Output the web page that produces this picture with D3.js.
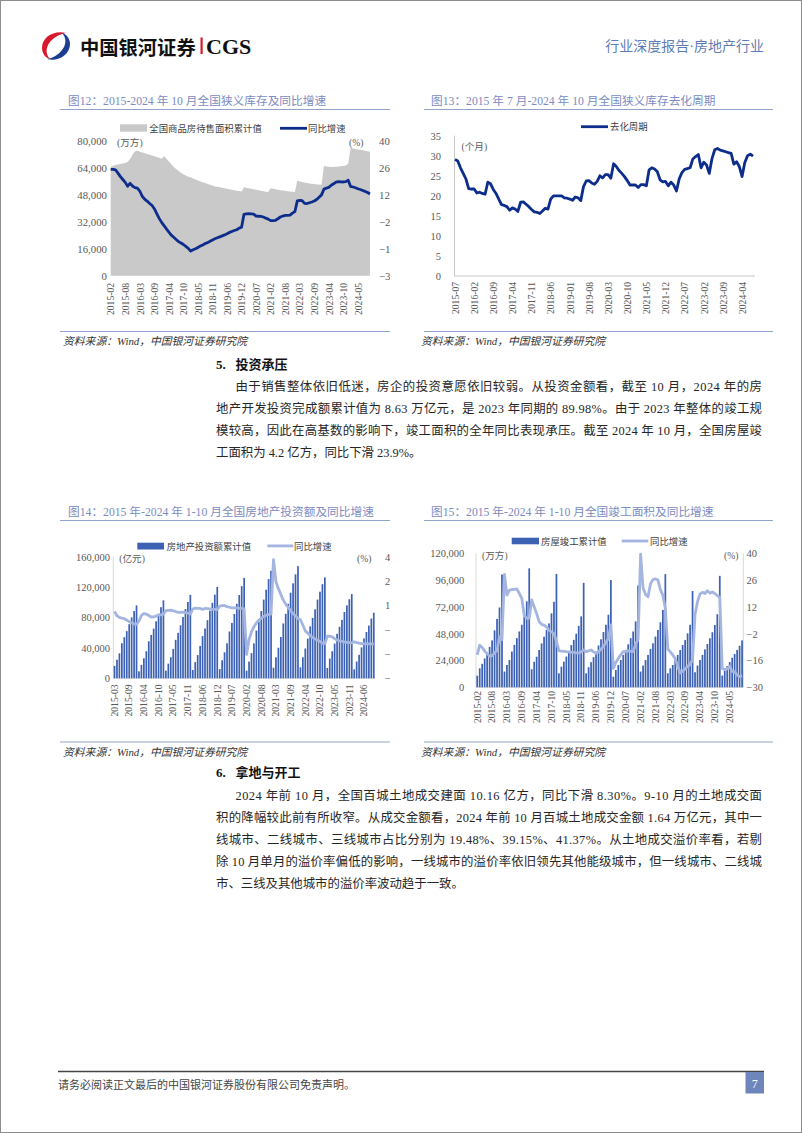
<!DOCTYPE html>
<html>
<head>
<meta charset="utf-8">
<script src="https://cdn.jsdelivr.net/npm/d3@7"></script>
<style>
body { margin: 0; background: #fff; }
svg text { font-family: "Liberation Serif", "Noto Sans CJK SC", serif; }
</style>
</head>
<body>
<svg id="page" width="802" height="1133"></svg>
<script>
// ---- data ----
// 图12 全国商品房待售面积累计值 (万方) and 同比 (%), 2015-02..2024-10, no January
const stockArea = [
  64700, 65300, 65800, 66100, 66300, 66600, 66900, 67500, 69300, 71800, 73800,
  74400, 73600, 73200, 72800, 72300, 71800, 71400, 71000, 70500, 70000, 69500,
  71000, 69500, 67800, 66200, 64600, 63300, 62200, 61200, 60300, 59500, 58800,
  58400, 57800, 57200, 56600, 56000, 55500, 55000, 54500, 54000, 53500, 53000,
  52800, 52500, 52200, 51900, 51600, 51300, 51000, 50800, 50500, 50300, 50000,
  52600, 52300, 52000, 51700, 51400, 51100, 50800, 50500, 50200, 49900, 49700,
  52000, 51600, 51300, 51000, 50800, 50600, 50400, 50200, 50000, 49800, 49700,
  56400, 56000, 55600, 55300, 55000, 54800, 54600, 54400, 54200, 54100, 54000,
  65300, 64900, 64700, 64600, 64600, 64700, 64800, 65000, 65200, 65500, 66500,
  76000, 75600, 75300, 75000, 74800, 74500, 74200, 73900, 73600
];
const stockYoY = [
  25.3, 25.3, 25.0, 23.3, 21.5, 20.0, 18.5, 16.5, 18.0, 16.6, 15.8,
  15.5, 14.0, 11.3, 9.8, 8.8, 7.6, 6.6, 4.8, 2.3, -0.2, -2.3,
  -4.0, -5.7, -7.3, -8.9, -10.0, -11.2, -12.3, -13.0, -13.8, -14.8, -15.8,
  -17.2, -16.5, -16.0, -15.3, -14.6, -14.0, -13.3, -12.8, -12.1, -11.4, -10.8,
  -10.3, -9.8, -9.3, -8.8, -8.2, -7.5, -7.0, -6.5, -6.1, -5.3, -4.8,
  1.9, 2.1, 2.2, 2.1, 2.0, 1.0, 0.9, 0.8, 0.5, -0.1, -0.6,
  -1.4, -1.4, -1.2, -0.4, 0.5, 1.0, 1.3, 1.4, 1.5, 2.5, 3.3,
  8.9, 9.2, 9.0, 7.6, 7.5, 7.9, 8.3, 8.8, 9.6, 10.8, 12.0,
  15.0, 15.5, 15.9, 17.0, 17.8, 18.6, 18.9, 18.8, 18.7, 18.9, 19.6,
  16.3, 16.1, 15.7, 15.2, 14.8, 14.3, 13.8, 13.2, 12.5
];
const stockTicks = ['2015-02','2015-08','2016-03','2016-09','2017-04','2017-10','2018-05','2018-11','2019-06',
  '2019-12','2020-07','2021-02','2021-08','2022-03','2022-09','2023-04','2023-10','2024-05'];

// 图13 去化周期 (个月), monthly from 2015-07
const cycle = [
  29.1, 28.7, 27.0, 25.6, 24.2, 21.8, 21.7, 21.7, 20.7, 20.9,
  20.6, 20.4, 23.4, 23.0, 21.6, 20.6, 19.2, 17.8, 17.6, 17.3,
  16.4, 17.0, 16.7, 16.1, 18.4, 18.5, 17.9, 17.3, 16.6, 16.0,
  15.9, 15.6, 16.2, 16.9, 16.7, 19.2, 20.0, 20.0, 20.0, 20.0,
  19.5, 19.4, 19.2, 18.9, 19.7, 19.5, 18.8, 22.3, 23.7, 23.8,
  23.2, 22.9, 23.6, 25.0, 24.5, 25.3, 25.3, 24.4, 28.0, 27.3,
  26.3, 25.6, 24.8, 23.8, 22.7, 22.7, 22.7, 22.1, 22.8, 22.8,
  22.5, 26.5, 27.0, 26.7, 26.0, 24.0, 23.5, 23.6, 22.5, 23.4,
  22.7, 21.2, 24.2, 25.8, 26.6, 26.8, 27.0, 29.2, 29.8, 30.3,
  27.0, 28.4, 27.7, 25.6, 29.3, 31.5, 31.8, 31.4, 31.2, 31.0,
  30.8, 30.6, 27.9, 28.5, 27.3, 24.8, 28.3, 30.0, 30.4, 29.9
];
const cycleTicks = ['2015-07','2016-02','2016-09','2017-04','2017-11','2018-06','2019-01','2019-08',
  '2020-03','2020-10','2021-05','2021-12','2022-07','2023-02','2023-09','2024-04'];

// 图14 房地产投资额累计值 (亿元) and 同比 (%), 2015-03..2024-10, no January
const investBars = [
  16360, 24452, 32852, 46177, 54130, 62045, 71178, 80056, 88513, 95979,
  9175, 17677, 26395, 35665, 48735, 57164, 65386, 74986, 84514, 93575, 102581,
  9978, 19292, 27732, 38676, 50610, 59761, 69694, 80644, 91069, 100387, 109799,
  10971, 21292, 30592, 42597, 55531, 65556, 76519, 88948, 99325, 110083, 120264,
  12090, 23803, 34217, 46075, 61609, 72843, 84589, 98008, 109603, 121265, 132194,
  10115, 21963, 33103, 45920, 62780, 74315, 88454, 103484, 116556, 130492, 141443,
  13986, 27576, 40240, 54318, 72179, 84895, 98060, 112559, 124934, 136803, 147602,
  14499, 27765, 39154, 52134, 68314, 79462, 90809, 103559, 113945, 123863, 132895,
  13669, 25974, 35514, 45701, 58550, 67717, 76900, 87269, 95922, 104045, 110913,
  11842, 22082, 30928, 40632, 52529, 60877, 69284, 78680, 86309
];
const investYoY = [
  8.5, 6.0, 5.1, 4.6, 4.3, 3.5, 2.6, 2.0, 1.3, 1.0,
  3.0, 6.2, 7.2, 7.0, 6.1, 5.3, 5.4, 5.8, 6.6, 6.5, 6.9,
  8.9, 9.1, 9.3, 8.8, 8.5, 7.9, 7.9, 8.1, 7.8, 7.5, 7.0,
  9.9, 10.4, 10.3, 10.2, 9.7, 10.2, 10.1, 9.9, 9.7, 9.7, 9.5,
  11.6, 11.8, 11.9, 11.2, 10.9, 10.6, 10.5, 10.5, 10.3, 10.2, 9.9,
  -16.3, -7.7, -3.3, -0.3, 1.9, 3.4, 4.6, 5.6, 6.3, 6.8, 7.0,
  38.3, 25.6, 21.6, 18.3, 15.0, 12.7, 10.9, 8.8, 7.2, 6.0, 4.4,
  3.7, 0.7, -2.7, -4.0, -5.4, -6.4, -7.4, -8.0, -8.8, -9.8, -10.0,
  -5.7, -5.8, -6.2, -7.2, -7.9, -8.5, -8.8, -9.1, -9.3, -9.4, -9.6,
  -9.0, -9.5, -9.8, -10.1, -10.1, -10.2, -10.2, -10.1, -10.3
];
const investTicks = ['2015-03','2015-09','2016-04','2016-10','2017-05','2017-11','2018-06','2018-12','2019-07',
  '2020-02','2020-08','2021-03','2021-09','2022-04','2022-10','2023-05','2023-11','2024-06'];

// 图15 房屋竣工累计值 (万方) and 同比 (%), 2015-02..2024-10, no January
const completeBars = [
  10400, 17000, 21000, 25800, 30300, 36200, 42000, 51000, 61300, 71500, 101000,
  14100, 20000, 24500, 32000, 38000, 44000, 50000, 56000, 63500, 77000, 106500,
  16200, 22900, 27400, 33400, 39300, 45300, 51300, 57200, 66200, 76600, 101500,
  12500, 18500, 23000, 27500, 32500, 37800, 42500, 48000, 55000, 63500, 93500,
  12500, 18000, 22500, 27000, 32000, 37500, 43000, 49500, 56000, 65000, 96000,
  9500, 15500, 20000, 24500, 29000, 33500, 38500, 44000, 50000, 59000, 91200,
  14100, 19500, 24500, 29000, 34400, 39400, 45400, 51300, 58200, 69300, 101400,
  12500, 17000, 20000, 24500, 29000, 33400, 37900, 42300, 48300, 56000, 86200,
  13500, 19500, 24500, 29000, 34000, 38800, 43900, 49300, 55800, 65400, 99800,
  10500, 14800, 19000, 22600, 26500, 29800, 33500, 37200, 42000
];
const completeYoY = [
  -13.1, -8.0, -9.2, -11.0, -12.4, -13.8, -13.5, -12.0, -10.8, -3.6, -5.0,
  29.0, 18.2, 20.8, 21.0, 21.2, 21.4, 19.0, 16.5, 7.5, 6.0, 6.1,
  15.6, 12.1, 8.5, 4.3, 2.9, 2.5, 1.5, -0.1, -1.0, -1.8, -6.0,
  -10.8, -11.1, -11.2, -11.4, -11.5, -11.7, -11.8, -12.0, -12.0, -11.5, -10.5,
  -11.4, -11.0, -10.5, -11.5, -12.2, -11.4, -10.0, -8.8, -6.5, -4.5, 2.6,
  -20.1, -17.0, -14.9, -13.0, -11.4, -11.2, -11.0, -11.2, -11.4, -7.5, -4.9,
  39.5, 22.0, 18.5, 17.3, 24.0, 26.3, 26.6, 26.1, 21.0, 18.0, 11.2,
  -10.0, -11.5, -13.1, -15.0, -19.0, -22.5, -21.5, -20.4, -19.0, -18.2, -15.5,
  8.0, 14.7, 18.8, 19.6, 19.0, 20.5, 19.2, 19.8, 19.0, 17.9, 17.0,
  -20.2, -20.7, -20.4, -19.0, -21.8, -21.8, -23.6, -24.4, -23.9
];
const completeTicks = stockTicks;

const rightTicks = [-30, -16, -2, 12, 26, 40];

// month category names
function monthList(startY, startM, n, skipJan) {
  const out = [];
  let y = startY, m = startM;
  while (out.length < n) {
    if (!(skipJan && m === 1)) out.push(`${y}-${String(m).padStart(2, '0')}`);
    m++;
    if (m > 12) { m = 1; y++; }
  }
  return out;
}
const stockMonths = monthList(2015, 2, stockArea.length, true);
const cycleMonths = monthList(2015, 7, cycle.length, false);
const investMonths = monthList(2015, 3, investBars.length, true);
const completeMonths = monthList(2015, 2, completeBars.length, true);

// ---- page ----
const svg = d3.select('#page');
const CJK = '"Noto Sans CJK SC"';
const titleColor = '#7c8bc1';
const ruleColor = '#93a4cc';
const tickColor = '#595959';
const barColor = '#3d62b4';
const lightLine = '#a3b5e0';
const darkLine = '#0d2d8d';

svg.append('rect').attr('x', 0.5).attr('y', 0.5).attr('width', 801).attr('height', 1132)
  .attr('fill', '#fff').attr('stroke', '#8c8c8c');

const defs = svg.append('defs');
defs.append('clipPath').attr('id', 'clipLeft').append('rect')
  .attr('x', 60).attr('y', 85).attr('width', 330).attr('height', 700);

// header
svg.append('path')
  .attr('d', 'M 66 33 C 54 30, 42 37, 42 48 C 42 54, 46 58, 50 59 C 46 55, 45 48, 50 42 C 54 37, 60 34, 66 33 Z')
  .attr('fill', '#d7192b');
svg.append('path')
  .attr('d', 'M 47 59 C 58 62, 70 55, 70 44 C 70 38, 66 34, 62 33 C 66 37, 67 44, 62 50 C 58 55, 53 58, 47 59 Z')
  .attr('fill', '#1c3e92');
svg.append('text').attr('x', 80).attr('y', 54.5).attr('font-family', CJK).attr('font-weight', 700)
  .attr('font-size', 19.3).attr('fill', '#111').text('中国银河证券');
svg.append('rect').attr('x', 200.5).attr('y', 37.5).attr('width', 2.2).attr('height', 16.5).attr('fill', '#d7192b');
svg.append('text').attr('x', 206).attr('y', 54).attr('font-family', '"Liberation Sans"').attr('font-weight', 700)
  .attr('font-size', 22).attr('fill', '#111').text('CGS');
svg.append('text').attr('x', 764).attr('y', 50.5).attr('text-anchor', 'end').attr('font-family', CJK)
  .attr('font-size', 14).attr('fill', '#5f7db5').text('行业深度报告·房地产行业');

// ---- shared pieces ----
function chartFrame(g, title, x0, x1, titleX, titleY, ruleY, bottomY, srcX) {
  g.append('text').attr('x', titleX).attr('y', titleY).attr('font-size', 11.7).attr('fill', titleColor).text(title);
  g.append('line').attr('x1', x0).attr('x2', x1).attr('y1', ruleY).attr('y2', ruleY)
    .attr('stroke', ruleColor).attr('stroke-width', 1.2);
  g.append('line').attr('x1', x0).attr('x2', x1).attr('y1', bottomY).attr('y2', bottomY)
    .attr('stroke', ruleColor).attr('stroke-width', 1.2);
  g.append('text').attr('x', srcX).attr('y', bottomY + 13.5).attr('font-size', 10.8).attr('font-style', 'italic')
    .attr('fill', '#333').text('资料来源：Wind，中国银河证券研究院');
}

function xLabels(g, scale, ticks, y) {
  g.append('g').attr('transform', `translate(0,${y})`)
    .call(d3.axisBottom(scale).tickValues(ticks).tickSize(0))
    .call(a => a.select('.domain').remove())
    .selectAll('text')
      .attr('transform', 'rotate(-90)')
      .attr('text-anchor', 'end')
      .attr('x', 0).attr('y', 0).attr('dy', '0.34em')
      .attr('font-family', '"Liberation Serif"').attr('font-size', 9.6).attr('fill', tickColor);
}

function yLabels(g, scale, ticks, x, side, font, size, fmt) {
  const axis = side === 'left' ? d3.axisLeft(scale) : d3.axisRight(scale);
  g.append('g').attr('transform', `translate(${x},0)`)
    .call(axis.tickValues(ticks).tickSize(0).tickPadding(0).tickFormat(fmt))
    .call(a => a.select('.domain').remove())
    .selectAll('text')
      .attr('font-family', font).attr('font-size', size).attr('fill', tickColor);
}

function legendText(g, x, y, label) {
  g.append('text').attr('x', x).attr('y', y).attr('font-family', CJK).attr('font-size', 9.4)
    .attr('fill', '#404040').text(label);
}

function unitText(g, x, y, label) {
  g.append('text').attr('x', x).attr('y', y).attr('font-size', 9.6).attr('fill', tickColor).text(label);
}

// ---- 图12 ----
{
  const g = svg.append('g').attr('clip-path', 'url(#clipLeft)');
  chartFrame(g, '图12：2015-2024 年 10 月全国狭义库存及同比增速', 60, 390, 68, 104.5, 109.5, 331.5, 63);

  const x = d3.scalePoint().domain(stockMonths).range([110.7, 370]);
  const y = d3.scaleLinear().domain([0, 80000]).range([275.7, 141]);
  const yr = d3.scaleLinear().domain([-30, 40]).range([275.7, 141]);

  g.append('path').datum(stockArea)
    .attr('fill', '#c9c9c9')
    .attr('d', d3.area().x((d, i) => x(stockMonths[i])).y0(y(0)).y1(d => y(d)));
  g.append('path').datum(stockYoY)
    .attr('fill', 'none').attr('stroke', darkLine).attr('stroke-width', 2.8).attr('stroke-linejoin', 'round')
    .attr('d', d3.line().x((d, i) => x(stockMonths[i])).y(d => yr(d)));

  yLabels(g, y, d3.range(0, 80001, 16000), 107, 'left', '"DejaVu Serif"', 10.8, d3.format(','));
  yLabels(g, yr, rightTicks, 379, 'right', '"DejaVu Serif"', 10.8, d3.format('d'));
  xLabels(g, x, stockTicks, 283);

  unitText(g, 117, 146, '(万方)');
  unitText(g, 349, 146, '(%)');

  g.append('rect').attr('x', 120).attr('y', 124.3).attr('width', 27).attr('height', 7.4).attr('fill', '#c9c9c9');
  legendText(g, 149.3, 131.8, '全国商品房待售面积累计值');
  g.append('line').attr('x1', 280).attr('x2', 307).attr('y1', 128.3).attr('y2', 128.3)
    .attr('stroke', darkLine).attr('stroke-width', 2.8);
  legendText(g, 308, 131.8, '同比增速');
}

// ---- 图13 ----
{
  const g = svg.append('g');
  chartFrame(g, '图13：2015 年 7 月-2024 年 10 月全国狭义库存去化周期', 424, 773, 431, 104.5, 109.5, 331.5, 421);

  const x = d3.scalePoint().domain(cycleMonths).range([455, 753]);
  const y = d3.scaleLinear().domain([0, 35]).range([276, 135.7]);

  g.append('line').attr('x1', 454.5).attr('x2', 454.5).attr('y1', 135.7).attr('y2', 276)
    .attr('stroke', '#c8c8c8');
  g.append('line').attr('x1', 454.5).attr('x2', 755).attr('y1', 276).attr('y2', 276)
    .attr('stroke', '#c8c8c8');

  g.append('path').datum(cycle)
    .attr('fill', 'none').attr('stroke', darkLine).attr('stroke-width', 2.8).attr('stroke-linejoin', 'round')
    .attr('d', d3.line().x((d, i) => x(cycleMonths[i])).y(d => y(d)));

  yLabels(g, y, d3.range(0, 36, 5), 441, 'left', '"Liberation Serif"', 10.5, d3.format('d'));
  xLabels(g, x, cycleTicks, 282);
  unitText(g, 461.5, 149.5, '(个月)');

  g.append('line').attr('x1', 581).attr('x2', 608).attr('y1', 126.7).attr('y2', 126.7)
    .attr('stroke', darkLine).attr('stroke-width', 2.8);
  legendText(g, 610, 130.3, '去化周期');
}

// ---- 图14 ----
{
  const g = svg.append('g').attr('clip-path', 'url(#clipLeft)');
  chartFrame(g, '图14：2015 年-2024 年 1-10 月全国房地产投资额及同比增速', 60, 390, 68, 516, 520.5, 742, 63);

  const x = d3.scaleBand().domain(investMonths).range([113.3, 375]).paddingInner(0.3).paddingOuter(0.15);
  const y = d3.scaleLinear().domain([0, 160000]).range([678.3, 556.7]);
  const yr = d3.scaleLinear().domain([-30, 40]).range([678.3, 556.7]);

  g.append('line').attr('x1', 113.3).attr('x2', 113.3).attr('y1', 556.7).attr('y2', 678.3).attr('stroke', '#d9d9d9');
  g.append('line').attr('x1', 113.3).attr('x2', 375).attr('y1', 678.3).attr('y2', 678.3).attr('stroke', '#d9d9d9');

  g.selectAll('rect.bar').data(investBars).enter().append('rect').attr('class', 'bar')
    .attr('x', (d, i) => x(investMonths[i])).attr('width', x.bandwidth())
    .attr('y', d => y(d)).attr('height', d => y(0) - y(d))
    .attr('fill', barColor);
  g.append('path').datum(investYoY)
    .attr('fill', 'none').attr('stroke', lightLine).attr('stroke-width', 2.8).attr('stroke-linejoin', 'round')
    .attr('d', d3.line().x((d, i) => x(investMonths[i]) + x.bandwidth() / 2).y(d => yr(d)));

  yLabels(g, y, d3.range(0, 160001, 40000), 110, 'left', '"DejaVu Serif"', 10.5, d3.format(','));
  yLabels(g, yr, rightTicks, 385, 'right', '"DejaVu Serif"', 10.5, d3.format('d'));
  xLabels(g, x, investTicks, 684.5);

  unitText(g, 119.3, 562, '(亿元)');
  unitText(g, 357, 562, '(%)');

  g.append('rect').attr('x', 137.3).attr('y', 542.7).attr('width', 26.7).attr('height', 6.8).attr('fill', barColor);
  legendText(g, 166.7, 550, '房地产投资额累计值');
  g.append('line').attr('x1', 267.3).attr('x2', 293.3).attr('y1', 545.9).attr('y2', 545.9)
    .attr('stroke', lightLine).attr('stroke-width', 2.8);
  legendText(g, 294, 550, '同比增速');
}

// ---- 图15 ----
{
  const g = svg.append('g');
  chartFrame(g, '图15：2015 年-2024 年 1-10 月全国竣工面积及同比增速', 424, 773, 431, 516, 520.5, 742, 421);

  const x = d3.scaleBand().domain(completeMonths).range([476, 743.3]).paddingInner(0.3).paddingOuter(0.15);
  const y = d3.scaleLinear().domain([0, 120000]).range([687.3, 553.3]);
  const yr = d3.scaleLinear().domain([-30, 40]).range([687.3, 553.3]);

  [476, 743.3].forEach(v => g.append('line').attr('x1', v).attr('x2', v).attr('y1', 553.3).attr('y2', 687.3)
    .attr('stroke', '#d9d9d9'));
  g.append('line').attr('x1', 476).attr('x2', 743.3).attr('y1', 687.3).attr('y2', 687.3).attr('stroke', '#d9d9d9');

  g.selectAll('rect.bar').data(completeBars).enter().append('rect').attr('class', 'bar')
    .attr('x', (d, i) => x(completeMonths[i])).attr('width', x.bandwidth())
    .attr('y', d => y(d)).attr('height', d => y(0) - y(d))
    .attr('fill', barColor);
  g.append('path').datum(completeYoY)
    .attr('fill', 'none').attr('stroke', lightLine).attr('stroke-width', 2.8).attr('stroke-linejoin', 'round')
    .attr('d', d3.line().x((d, i) => x(completeMonths[i]) + x.bandwidth() / 2).y(d => yr(d)));

  yLabels(g, y, d3.range(0, 120001, 24000), 464.3, 'left', '"Liberation Serif"', 10.5, d3.format(','));
  yLabels(g, yr, rightTicks, 746.5, 'right', '"Liberation Serif"', 10.5, d3.format('d'));
  xLabels(g, x, completeTicks, 691);

  unitText(g, 482, 558.5, '(万方)');
  unitText(g, 724, 558.5, '(%)');

  g.append('rect').attr('x', 511.7).attr('y', 537.7).attr('width', 27.3).attr('height', 6.6).attr('fill', barColor);
  legendText(g, 541, 545, '房屋竣工累计值');
  g.append('line').attr('x1', 621.7).attr('x2', 648.3).attr('y1', 541).attr('y2', 541)
    .attr('stroke', lightLine).attr('stroke-width', 2.8);
  legendText(g, 650, 545, '同比增速');
}

// ---- body text ----
const textLeft = 216, textIndent = 235.5, textRight = 762;

function heading(num, label, cy) {
  svg.append('text').attr('x', textLeft).attr('y', cy + 4.7).attr('font-size', 13).attr('font-weight', 700)
    .attr('fill', '#111').text(num);
  svg.append('text').attr('x', textIndent).attr('y', cy + 4.7).attr('font-family', CJK).attr('font-size', 13)
    .attr('font-weight', 700).attr('fill', '#111').text(label);
}

function paragraph(lines, firstCy, step) {
  lines.forEach((line, i) => {
    const x0 = i === 0 ? textIndent : textLeft;
    const t = svg.append('text').attr('x', x0).attr('y', firstCy + i * step + 4.6)
      .attr('font-size', 12.4).attr('fill', '#262626').text(line);
    if (i < lines.length - 1) t.attr('textLength', textRight - x0).attr('lengthAdjust', 'spacing');
  });
}

heading('5.', '投资承压', 364);
paragraph([
  '由于销售整体依旧低迷，房企的投资意愿依旧较弱。从投资金额看，截至 10 月，2024 年的房',
  '地产开发投资完成额累计值为 8.63 万亿元，是 2023 年同期的 89.98%。由于 2023 年整体的竣工规',
  '模较高，因此在高基数的影响下，竣工面积的全年同比表现承压。截至 2024 年 10 月，全国房屋竣',
  '工面积为 4.2 亿方，同比下滑 23.9%。'
], 386, 22);

heading('6.', '拿地与开工', 772);
paragraph([
  '2024 年前 10 月，全国百城土地成交建面 10.16 亿方，同比下滑 8.30%。9-10 月的土地成交面',
  '积的降幅较此前有所收窄。从成交金额看，2024 年前 10 月百城土地成交金额 1.64 万亿元，其中一',
  '线城市、二线城市、三线城市占比分别为 19.48%、39.15%、41.37%。从土地成交溢价率看，若剔',
  '除 10 月单月的溢价率偏低的影响，一线城市的溢价率依旧领先其他能级城市，但一线城市、二线城',
  '市、三线及其他城市的溢价率波动趋于一致。'
], 795, 22);

// ---- footer ----
svg.append('line').attr('x1', 58).attr('x2', 764).attr('y1', 1071.5).attr('y2', 1071.5)
  .attr('stroke', '#444').attr('stroke-width', 1.3);
svg.append('text').attr('x', 58).attr('y', 1089).attr('font-family', CJK).attr('font-size', 11)
  .attr('fill', '#444').text('请务必阅读正文最后的中国银河证券股份有限公司免责声明。');
svg.append('rect').attr('x', 745.5).attr('y', 1072).attr('width', 18.5).attr('height', 21.5).attr('fill', '#6f86bd');
svg.append('text').attr('x', 754.7).attr('y', 1087.5).attr('text-anchor', 'middle').attr('font-size', 12)
  .attr('fill', '#fff').text('7');
</script>
</body>
</html>
